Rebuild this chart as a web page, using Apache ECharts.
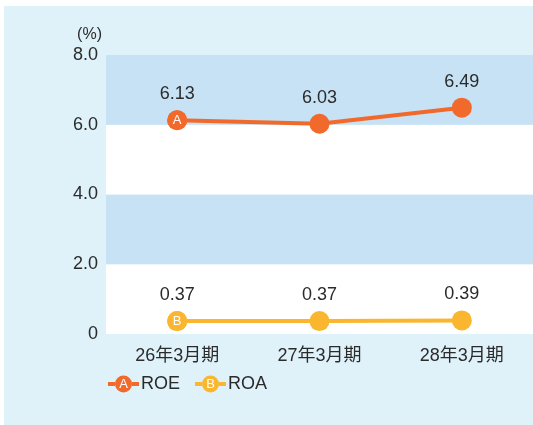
<!DOCTYPE html>
<html lang="ja">
<head>
<meta charset="UTF-8" />
<title>ROE / ROA</title>
<style>
  html, body { margin: 0; padding: 0; background: #ffffff; }
  #roe-chart {
    position: absolute;
    left: 4px;
    top: 6px;
    width: 529px;
    height: 419px;
    background: #dff1f9;
  }
</style>
</head>
<body>
<div id="roe-chart"></div>
<script src="https://cdn.jsdelivr.net/npm/echarts@6/dist/echarts.min.js"></script>
<script>
  const categories = ["26年3月期", "27年3月期", "28年3月期"];
  const roe = [6.13, 6.03, 6.49];
  const roa = [0.37, 0.37, 0.39];
  const yTicks = [0, 2, 4, 6, 8];

  const FONT = "Liberation Sans, Arial, Noto Sans CJK JP, sans-serif";
  const ROE_COLOR = "#f26a2b";
  const ROA_COLOR = "#fbb630";
  const TEXT = "#2b2b2b";

  window.onload = function () {
    let chart = echarts.init(document.getElementById("roe-chart"));

    // マーカーの中の A / B
    function letterMark(letter, value, color) {
      return {
        symbol: "circle",
        symbolSize: 20,
        silent: true,
        itemStyle: { color: color },
        label: {
          show: true,
          position: "inside",
          formatter: letter,
          color: "#ffffff",
          fontSize: 13,
          fontFamily: FONT,
        },
        data: [{ coord: [0, value] }],
      };
    }

    function lineSeries(name, data, color, letter) {
      return {
        name: name,
        type: "line",
        data: data,
        symbol: "circle",
        symbolSize: 20,
        lineStyle: { color: color, width: 4 },
        itemStyle: { color: color },
        label: {
          show: true,
          position: "top",
          distance: 7,
          color: TEXT,
          fontSize: 18,
          fontFamily: FONT,
          formatter: function (p) {
            return p.value.toFixed(2);
          },
        },
        markPoint: letterMark(letter, data[0], color),
        z: 3,
      };
    }

    function legendRich(color) {
      return {
        l: { backgroundColor: color, width: 7, height: 4, lineHeight: 4 },
        c: {
          backgroundColor: color,
          borderRadius: 9,
          width: 17,
          height: 17,
          lineHeight: 17,
          align: "center",
          color: "#ffffff",
          fontSize: 13,
          fontFamily: FONT,
        },
        t: { color: TEXT, fontSize: 18, fontFamily: FONT, padding: [0, 0, 0, 2] },
      };
    }

    let option = {
      animation: false,
      grid: { left: 102, right: 0, top: 49, bottom: 91 },
      legend: {
        left: 99,
        top: 369,
        padding: 0,
        icon: "none",
        itemWidth: 0,
        itemGap: 10,
        data: [
          { name: "ROE", textStyle: { rich: legendRich(ROE_COLOR) } },
          { name: "ROA", textStyle: { rich: legendRich(ROA_COLOR) } },
        ],
        formatter: function (name) {
          let letter = name === "ROE" ? "A" : "B";
          return "{l|}{c|" + letter + "}{l|}{t|" + name + "}";
        },
        selectedMode: false,
      },
      xAxis: {
        type: "category",
        data: categories,
        boundaryGap: true,
        axisLine: { show: false },
        axisTick: { show: false },
        axisLabel: {
          color: TEXT,
          fontSize: 18,
          fontFamily: FONT,
          margin: 13,
        },
      },
      yAxis: {
        type: "value",
        min: yTicks[0],
        max: yTicks[yTicks.length - 1],
        interval: 2,
        name: "(%)",
        nameGap: 12,
        nameTextStyle: {
          color: TEXT,
          fontSize: 16,
          fontFamily: FONT,
          align: "right",
          padding: [0, 4, 0, 0],
        },
        axisLine: { show: false },
        axisTick: { show: false },
        splitLine: { show: false },
        splitArea: {
          show: true,
          areaStyle: { color: ["#ffffff", "#c6e2f4"] },
        },
        axisLabel: {
          color: TEXT,
          fontSize: 18,
          fontFamily: FONT,
          margin: 8,
          formatter: function (v) {
            return v === 0 ? "0" : v.toFixed(1);
          },
        },
      },
      series: [
        lineSeries("ROE", roe, ROE_COLOR, "A"),
        lineSeries("ROA", roa, ROA_COLOR, "B"),
      ],
    };
    chart.setOption(option);
  };
</script>
</body>
</html>
